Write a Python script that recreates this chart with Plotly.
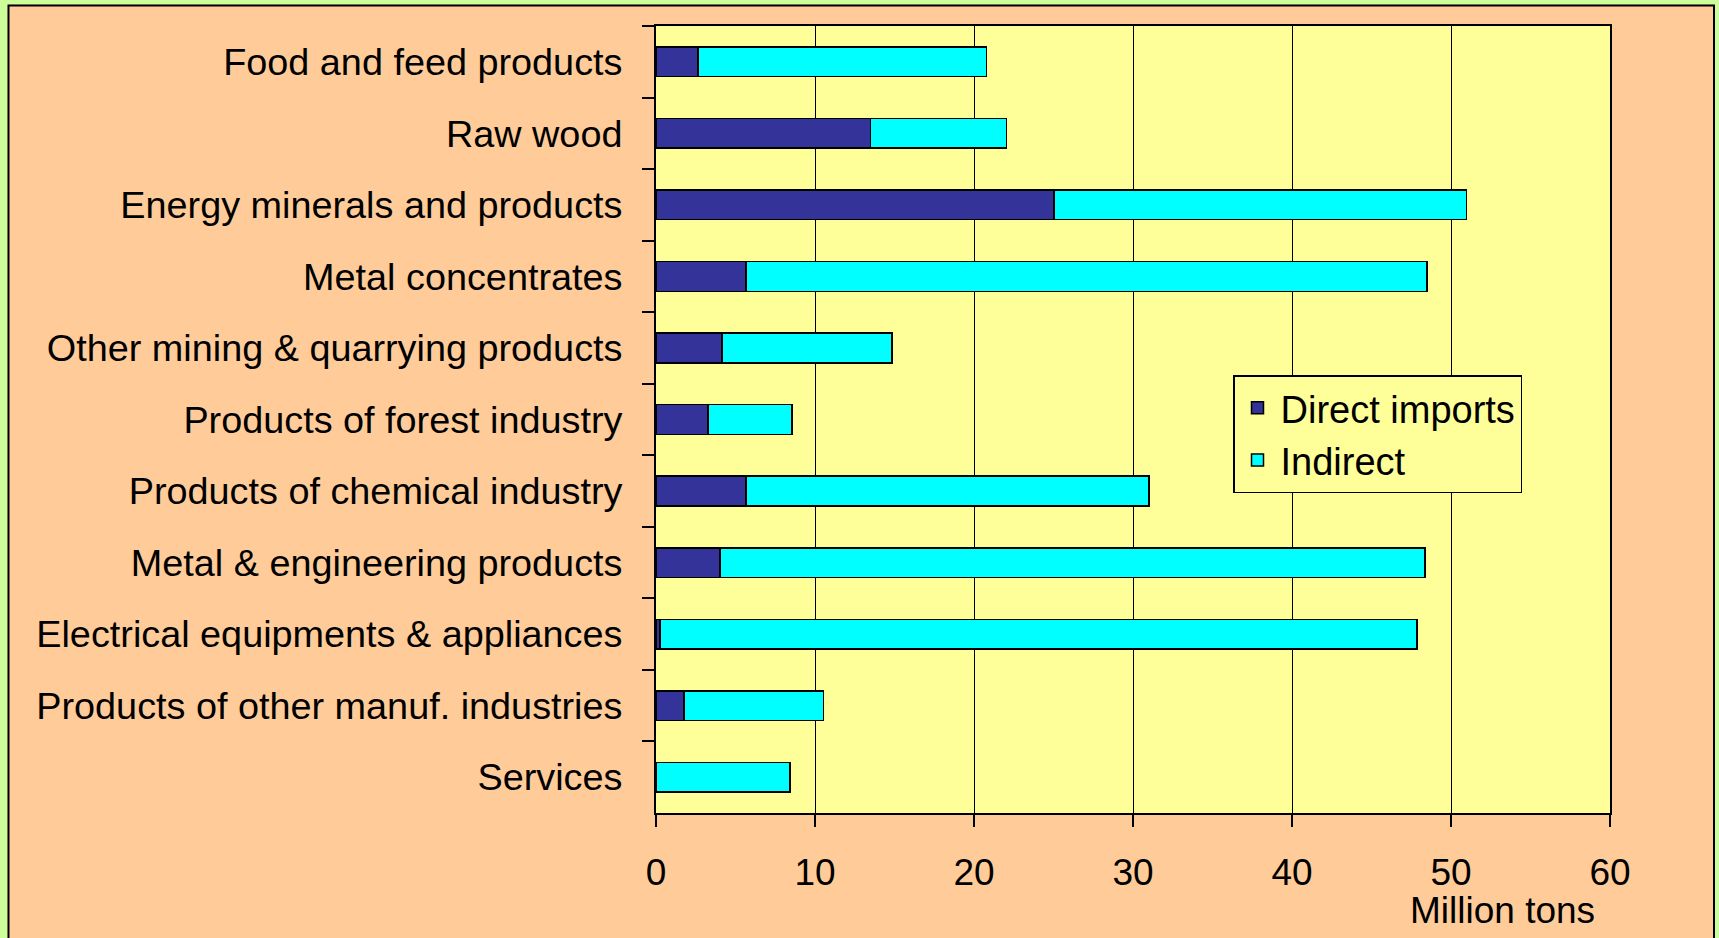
import plotly.graph_objects as go

# ---------------- data ----------------
categories = [
    "Food and feed products",
    "Raw wood",
    "Energy minerals and products",
    "Metal concentrates",
    "Other mining & quarrying products",
    "Products of forest industry",
    "Products of chemical industry",
    "Metal & engineering products",
    "Electrical equipments & appliances",
    "Products of other manuf. industries",
    "Services",
]
direct_imports = [2.65, 13.48, 25.03, 5.66, 4.14, 3.28, 5.66, 4.03, 0.25, 1.77, 0.0]
indirect = [18.13, 8.56, 25.94, 42.83, 10.70, 5.26, 25.36, 44.35, 47.62, 8.78, 8.43]
x_ticks = [0, 10, 20, 30, 40, 50, 60]
series_names = ["Direct imports", "Indirect"]
x_unit = "Million tons"

# ---------------- layout constants ----------------
W, H = 1719, 938
ML, MR, MT, MB = 656, 109, 26, 125
PW, PH = W - ML - MR, H - MT - MB

def px_x(px):
    return (px - ML) / PW

def px_y(py):
    return (H - MB - py) / PH

FONT = "Arial, Liberation Sans, sans-serif"
NAVY = "#333399"
CYAN = "#00FFFF"
PEACH = "#FFCC99"
YELLOW = "#FFFF99"
GREEN = "#CCFF99"

fig = go.Figure()
fig.add_trace(go.Bar(
    y=categories, x=direct_imports, name=series_names[0], orientation="h",
    marker=dict(color=NAVY, line=dict(color="black", width=1.5)),
))
fig.add_trace(go.Bar(
    y=categories, x=indirect, name=series_names[1], orientation="h",
    marker=dict(color=CYAN, line=dict(color="black", width=1.5)),
))

shapes = [
    # green outer strips
    dict(type="rect", xref="paper", yref="paper", x0=px_x(-5), x1=px_x(7.5),
         y0=px_y(H + 5), y1=px_y(-5), fillcolor=GREEN, line=dict(width=0), layer="below"),
    dict(type="rect", xref="paper", yref="paper", x0=px_x(-5), x1=px_x(W + 5),
         y0=px_y(4.5), y1=px_y(-5), fillcolor=GREEN, line=dict(width=0), layer="below"),
    dict(type="rect", xref="paper", yref="paper", x0=px_x(1714.5), x1=px_x(W + 5),
         y0=px_y(H + 5), y1=px_y(-5), fillcolor=GREEN, line=dict(width=0), layer="below"),
    # black frame
    dict(type="rect", xref="paper", yref="paper", x0=px_x(8.5), x1=px_x(1714),
         y0=px_y(H + 20), y1=px_y(5.5), fillcolor="rgba(0,0,0,0)",
         line=dict(color="black", width=2), layer="below"),
]

fig.update_layout(
    width=W, height=H,
    margin=dict(l=ML, r=MR, t=MT, b=MB, pad=0),
    paper_bgcolor=PEACH,
    plot_bgcolor=YELLOW,
    barmode="stack",
    bargap=0.585,
    font=dict(family=FONT, size=38, color="black"),
    showlegend=True,
    legend=dict(
        x=px_x(1233), y=px_y(375), xanchor="left", yanchor="top",
        bgcolor=YELLOW, bordercolor="black", borderwidth=1.5,
        font=dict(family=FONT, size=38, color="black"),
        traceorder="normal", itemwidth=36,
    ),
    shapes=shapes,
    annotations=[dict(
        text=x_unit, xref="paper", yref="paper",
        x=px_x(1597), y=px_y(910), xanchor="right", yanchor="middle",
        showarrow=False, font=dict(family=FONT, size=37, color="black"),
    )],
)

fig.update_xaxes(
    range=[0, 60], tickvals=x_ticks, ticktext=[str(v) for v in x_ticks],
    showgrid=True, gridcolor="black", gridwidth=1,
    showline=True, linecolor="black", linewidth=2, mirror=True,
    ticks="outside", ticklen=12, tickcolor="black", tickwidth=2,
    ticklabelstandoff=14,
    tickfont=dict(family=FONT, size=37, color="black"),
    zeroline=False, fixedrange=True,
)
fig.update_yaxes(
    categoryorder="array", categoryarray=categories, autorange="reversed",
    showgrid=False,
    showline=True, linecolor="black", linewidth=2, mirror=True,
    ticks="outside", ticklen=12, tickcolor="black", tickwidth=2,
    tickson="boundaries", ticklabelstandoff=24,
    tickfont=dict(family=FONT, size=37.8, color="black"),
    zeroline=False, fixedrange=True,
)

fig.write_html("out.html", config=dict(displayModeBar=False))
